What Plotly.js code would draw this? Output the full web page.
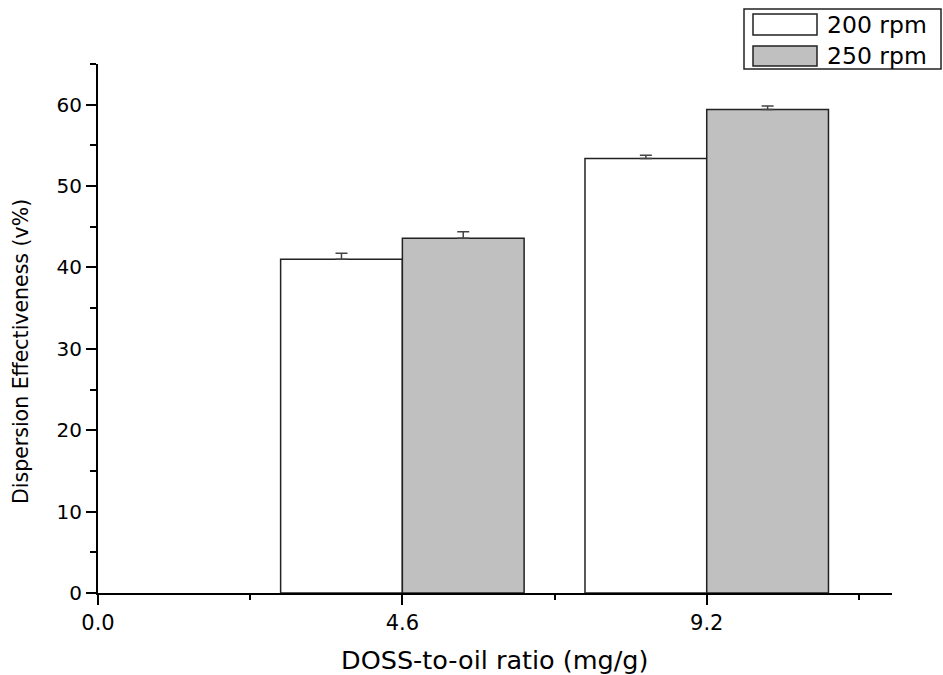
<!DOCTYPE html>
<html>
<head>
<meta charset="utf-8">
<script src="https://cdn.plot.ly/plotly-3.0.1.min.js"></script>
<style>
  html, body { margin: 0; padding: 0; background: #fff; }
  #chart { width: 943px; height: 675px; }
</style>
</head>
<body>
<div id="chart"></div>
<script>
// DOSS-to-oil ratio groups (mg/g) and dispersion effectiveness (v%)
const ratios = [4.6, 9.2];
const tickValues = [0, 4.6, 9.2];
const tickLabels = ["0.0", "4.6", "9.2"];
const minorTickValues = [2.3, 6.9, 11.5];

const seriesNames = ["200 rpm", "250 rpm"];
const effect200 = [41.0, 53.4];
const effect250 = [43.6, 59.4];
const error200 = [0.75, 0.4];
const error250 = [0.8, 0.45];
const zeros = [0, 0];

const xTitle = "DOSS-to-oil ratio (mg/g)";
const yTitle = "Dispersion Effectiveness (v%)";

const fillColors = ["#ffffff", "#c0c0c0"];
const font = "DejaVu Sans";

// plot area in pixels
const W = 943, H = 675;
const M = { l: 98, r: 51, t: 64, b: 82 };
const pw = W - M.l - M.r, ph = H - M.t - M.b;
const px = x => (x - M.l) / pw;
const py = y => (H - M.b - y) / ph;

const barWidth = 1.84;

function barTrace(name, y, err, color, offset) {
  return {
    type: "bar",
    name: name,
    x: ratios,
    y: y,
    width: barWidth,
    offset: offset,
    marker: { color: color, line: { color: "#222", width: 1.5 } },
    error_y: {
      type: "data", symmetric: false, array: err, arrayminus: zeros,
      color: "#444", thickness: 1.5, width: 6
    },
    showlegend: false,
    hoverinfo: "x+y"
  };
}

const data = [
  barTrace(seriesNames[0], effect200, error200, fillColors[0], -barWidth),
  barTrace(seriesNames[1], effect250, error250, fillColors[1], 0)
];

// boxed key in the top-right corner
const shapes = [
  { type: "rect", xref: "paper", yref: "paper",
    x0: px(744), x1: px(941), y0: py(69), y1: py(9),
    line: { color: "#222", width: 1.5 }, fillcolor: "#fff" },
  { type: "rect", xref: "paper", yref: "paper",
    x0: px(753), x1: px(817), y0: py(35), y1: py(14),
    line: { color: "#222", width: 1.5 }, fillcolor: fillColors[0] },
  { type: "rect", xref: "paper", yref: "paper",
    x0: px(753), x1: px(817), y0: py(66), y1: py(46),
    line: { color: "#222", width: 1.5 }, fillcolor: fillColors[1] }
];

const annotations = [
  { xref: "paper", yref: "paper", x: px(825), y: py(25), xanchor: "left", yanchor: "middle",
    text: seriesNames[0], showarrow: false, font: { family: font, size: 23.5, color: "#000" } },
  { xref: "paper", yref: "paper", x: px(825), y: py(56), xanchor: "left", yanchor: "middle",
    text: seriesNames[1], showarrow: false, font: { family: font, size: 23.5, color: "#000" } },
  // axis titles
  { xref: "paper", yref: "paper", x: px(495), y: py(660), xanchor: "center", yanchor: "middle",
    text: xTitle, showarrow: false, font: { family: font, size: 25.5, color: "#000" } },
  { xref: "paper", yref: "paper", x: px(21), y: py(352), xanchor: "center", yanchor: "middle",
    textangle: -90, text: yTitle, showarrow: false, font: { family: font, size: 20.5, color: "#000" } }
];

const layout = {
  width: W, height: H,
  margin: M,
  paper_bgcolor: "#fff", plot_bgcolor: "#fff",
  font: { family: font, color: "#000", size: 20 },
  showlegend: false,
  xaxis: {
    range: [0, 12],
    tickmode: "array", tickvals: tickValues, ticktext: tickLabels,
    ticks: "outside", ticklen: 10, tickwidth: 2, tickcolor: "#000",
    minor: { tickmode: "array", tickvals: minorTickValues, ticks: "outside", ticklen: 5, tickwidth: 2, tickcolor: "#000" },
    showline: true, linecolor: "#000", linewidth: 2,
    showgrid: false, zeroline: false,
    tickfont: { family: font, size: 21, color: "#000" }
  },
  yaxis: {
    range: [0, 65],
    tickmode: "linear", tick0: 0, dtick: 10,
    ticks: "outside", ticklen: 10, tickwidth: 2, tickcolor: "#000",
    minor: { tick0: 0, dtick: 5, ticks: "outside", ticklen: 6, tickwidth: 2, tickcolor: "#000" },
    showline: true, linecolor: "#000", linewidth: 2,
    showgrid: false, zeroline: false,
    tickfont: { family: font, size: 20, color: "#000" }
  },
  shapes: shapes,
  annotations: annotations
};

Plotly.newPlot("chart", data, layout, { displayModeBar: false, staticPlot: true });
</script>
</body>
</html>
